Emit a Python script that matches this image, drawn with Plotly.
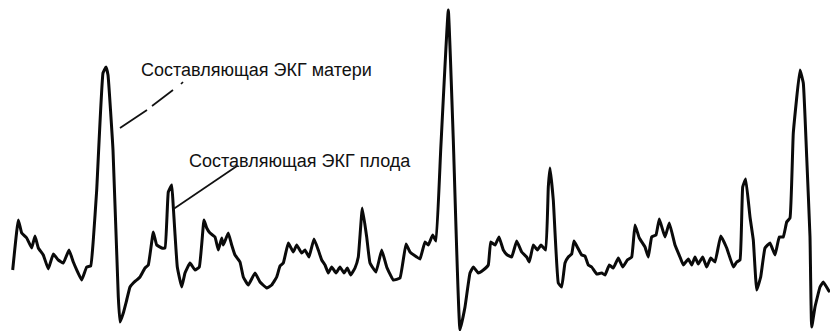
import plotly.graph_objects as go

# Abdominal ECG recording: time (arbitrary sample units) and amplitude (arbitrary units)
t = [12.7, 18.3, 21.7, 26.7, 31.7, 35, 38.3, 43.3, 48.3, 53.3, 58.3, 63.3, 69, 73.3, 81.7, 86.7,
     90.7, 93.3, 96.7, 103, 106, 108, 113, 118.3, 120, 123.3, 126.7, 130, 133.3, 136.7, 140, 145,
     148.3, 153.3, 156.7, 161.7, 165, 168.3, 171.7, 173.3, 177.3, 181.7, 185, 190, 195, 199.3, 204,
     206.7, 210, 215, 218.3, 221.7, 223.3, 228.3, 231.7, 235, 240, 243.3, 248.3, 255, 260, 266.7,
     271.7, 276.7, 280, 283.3, 288.3, 293.3, 296.7, 301.7, 305, 309, 314, 318.3, 321.7, 325, 328.3,
     331.7, 336, 340, 344, 347.3, 350.7, 355, 358.3, 362.3, 366.7, 370, 376, 381.7, 386.7, 393.3,
     400, 406, 410, 416.7, 420, 425, 428.3, 432.7, 436, 440.7, 448.3, 453.3, 460, 465, 470, 473.3,
     478.3, 483.3, 488.3, 490.7, 495, 499, 503.3, 507.3, 511.7, 516.7, 521.7, 526.7, 529.3, 533.3,
     537.3, 541, 545.7, 548.3, 550, 553.3, 558.3, 561.7, 565, 568.3, 571.7, 574, 577.3, 581.7, 585,
     588.3, 591.7, 596.7, 601.7, 605, 609.3, 613.3, 618.3, 622.7, 627.3, 631.7, 635, 639.3, 645,
     648.3, 651.7, 656, 659.3, 665, 669.3, 675, 680, 683.3, 688.3, 691.7, 695, 698.3, 702.7, 706.7,
     710.7, 715, 720.7, 726.7, 733.3, 736.7, 740, 742.7, 745.7, 750, 753.3, 756.7, 760.7, 765, 770,
     775, 779.3, 783.3, 786.7, 790, 793.3, 800, 803.3, 806.7, 810, 811.7, 815, 820, 823.3, 828.3, 830]

depth = [270, 220, 233, 238, 248, 236, 248, 255, 269, 254, 260, 263, 250, 262, 280, 267,
         266, 240, 190, 73, 67, 75, 150, 297, 322, 313, 300, 287, 283, 280, 277, 268,
         265, 232, 245, 248, 248, 192, 185, 207, 267, 287, 273, 263, 270, 267, 220,
         228, 233, 237, 250, 238, 245, 233, 245, 255, 262, 277, 285, 273, 282, 288,
         285, 277, 266, 263, 243, 252, 245, 253, 250, 257, 239, 250, 260, 265, 273,
         267, 273, 267, 273, 268, 275, 268, 257, 208, 237, 263, 272, 250, 267, 280,
         278, 244, 252, 257, 259, 242, 245, 235, 241, 150, 10, 140, 330, 307, 273, 267,
         273, 270, 265, 242, 245, 237, 250, 255, 257, 241, 252, 257, 262, 245,
         250, 245, 250, 187, 168, 200, 283, 287, 263, 257, 254, 241, 247, 255, 256,
         265, 267, 274, 273, 275, 265, 268, 258, 267, 260, 257, 225, 238, 247,
         257, 237, 235, 219, 237, 223, 245, 257, 265, 259, 265, 257, 264, 257, 267,
         258, 262, 236, 248, 267, 262, 260, 187, 179, 217, 240, 290, 277, 248, 243,
         255, 237, 237, 222, 218, 133, 70, 83, 157, 237, 327, 307, 287, 282, 290, 292]

H = 331
amplitude = [H - d for d in depth]

label_maternal = "Составляющая ЭКГ матери"
label_fetal = "Составляющая ЭКГ плода"

fig = go.Figure()
fig.add_trace(go.Scatter(
    x=t, y=amplitude, mode="lines",
    line=dict(color="#0a0a0a", width=3, shape="spline", smoothing=0.3),
    hoverinfo="skip", showlegend=False,
))

# leader lines pointing to the two components
ink = dict(color="#111111", width=1.7)
fig.add_shape(type="line", x0=120, y0=H - 128, x1=147, y1=H - 110, line=ink)
fig.add_shape(type="line", x0=152, y0=H - 106, x1=173, y1=H - 90, line=ink)
fig.add_shape(type="line", x0=181, y0=H - 84, x1=183, y1=H - 82, line=ink)
fig.add_shape(type="line", x0=173.5, y0=H - 209, x1=237, y1=H - 166, line=ink)

font = dict(family="Liberation Sans, Arial, sans-serif", size=18, color="#111111")
fig.add_annotation(x=139, y=H - 70, text=label_maternal, showarrow=False,
                   xanchor="left", yanchor="middle", font=font)
fig.add_annotation(x=187, y=H - 161, text=label_fetal, showarrow=False,
                   xanchor="left", yanchor="middle", font=font)

fig.update_layout(
    width=830, height=331,
    margin=dict(l=0, r=0, t=0, b=0),
    paper_bgcolor="white", plot_bgcolor="white",
    xaxis=dict(range=[0, 830], visible=False, fixedrange=True),
    yaxis=dict(range=[0, H], visible=False, fixedrange=True),
)

fig.write_html("out.html")
